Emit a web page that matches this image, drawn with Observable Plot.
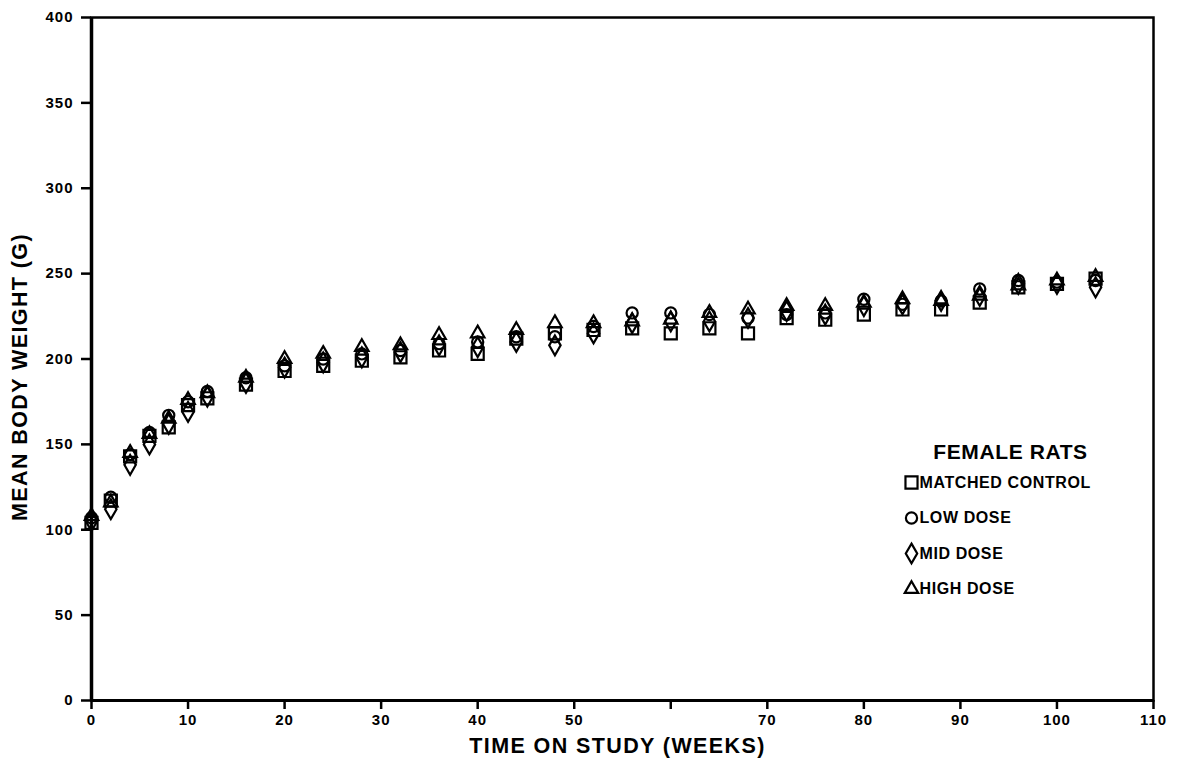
<!DOCTYPE html>
<html>
<head>
<meta charset="utf-8">
<script src="https://cdn.jsdelivr.net/npm/d3@7"></script>
<script src="https://cdn.jsdelivr.net/npm/@observablehq/plot@0.6"></script>
<style>
  html, body { margin: 0; padding: 0; background: #fff; }
  #chart svg text { font-family: "Liberation Sans", Arial, sans-serif; font-weight: bold; }
  #chart g[aria-label$="tick label"] { font-size: 15px; letter-spacing: 1px; }
  #chart g[aria-label$="tick label"] text { font-size: 15px; letter-spacing: 1px; }
  #chart .biglbl text { letter-spacing: 1.4px; }
  #chart .legtxt text { letter-spacing: 0.6px; }
</style>
</head>
<body>
<div id="chart"></div>
<script>
// ---- data ----
const weeks = [0, 2, 4, 6, 8, 10, 12, 16, 20, 24, 28, 32, 36, 40, 44, 48, 52, 56, 60, 64, 68, 72, 76, 80, 84, 88, 92, 96, 100, 104];
const matchedControl = [104, 117, 143, 155, 160, 173, 177, 185, 193, 196, 199, 201, 205, 203, 212, 215, 217, 218, 215, 218, 215, 224, 223, 226, 229, 229, 233, 242, 244, 247];
const lowDose        = [107, 119, 144, 157, 167, 175, 181, 189, 196, 200, 203, 205, 209, 210, 213, 213, 219, 227, 227, 226, 224, 226, 227, 235, 232, 234, 241, 246, 245, 246];
const midDose        = [105, 112, 138, 150, 162, 169, 178, 186, 195, 198, 201, 204, 208, 207, 210, 208, 215, 221, 222, 222, 224, 228, 226, 231, 232, 234, 237, 244, 244, 242];
const highDose       = [108, 116, 145, 156, 165, 176, 180, 189, 200, 203, 207, 208, 214, 215, 217, 221, 221, 222, 223, 227, 229, 231, 231, 233, 235, 234, 237, 243, 246, 248];

const seriesNames = ["MATCHED CONTROL", "LOW DOSE", "MID DOSE", "HIGH DOSE"];
const seriesValues = [matchedControl, lowDose, midDose, highDose];
const seriesSymbols = ["square", "circle", "diamond", "triangle"];
const seriesRadius = [6.8, 5.6, 6, 5];

const xTicks = [0, 10, 20, 30, 40, 50, 60, 70, 80, 90, 100, 110];
const xTickLabels = ["0", "10", "20", "30", "40", "50", "", "70", "80", "90", "100", "110"];
const yTicks = [0, 50, 100, 150, 200, 250, 300, 350, 400];

const legendTitle = "FEMALE RATS";
const xLabel = "TIME ON STUDY (WEEKS)";
const yLabel = "MEAN BODY WEIGHT (G)";

// ---- build ----
const seriesMarks = seriesNames.map((name, s) => {
  const rows = weeks.map((w, i) => ({week: w, weight: seriesValues[s][i], series: name}));
  return Plot.dot(rows, {
    x: "week", y: "weight", symbol: () => seriesSymbols[s], r: seriesRadius[s],
    stroke: "black", strokeWidth: 2.2, fill: "none"
  });
});

const legendMarks = [
  Plot.text([legendTitle], {frameAnchor: "top-left", dx: 919, dy: 435, text: d => d,
    textAnchor: "middle", lineAnchor: "middle", fontSize: 21, fill: "black", className: "legtxt"})
];
seriesNames.forEach((name, s) => {
  const dy = 465 + s * 35.5;
  legendMarks.push(Plot.dot([name], {frameAnchor: "top-left", dx: 820, dy,
    symbol: () => seriesSymbols[s], r: seriesRadius[s], stroke: "black", strokeWidth: 2.2, fill: "none"}));
  legendMarks.push(Plot.text([name], {frameAnchor: "top-left", dx: 828, dy, text: d => d,
    textAnchor: "start", lineAnchor: "middle", fontSize: 16, fill: "black", className: "legtxt"}));
});

const chart = Plot.plot({
  width: 1178,
  height: 758,
  marginLeft: 91,
  marginRight: 25,
  marginTop: 17,
  marginBottom: 58,
  style: {background: "white", color: "black", fontFamily: "Liberation Sans, Arial, sans-serif"},
  x: {domain: [0, 110]},
  y: {domain: [0, 400]},
  symbol: {type: "identity"},
  marks: [
    Plot.frame({stroke: "black", strokeWidth: 2.5}),
    Plot.ruleX([0], {stroke: "black", strokeWidth: 3.5}),
    Plot.ruleY([0], {stroke: "black", strokeWidth: 3}),
    Plot.axisY({ticks: yTicks, tickSize: 10, tickPadding: 8, strokeWidth: 2.5, fontSize: 15,
      label: null}),
    Plot.axisX({ticks: xTicks, tickFormat: (d) => xTickLabels[xTicks.indexOf(d)], tickSize: 9, tickPadding: 5,
      strokeWidth: 2.5, fontSize: 15, label: null}),
    Plot.text([yLabel], {frameAnchor: "left", rotate: -90, dx: -71, dy: 18, text: d => d,
      textAnchor: "middle", lineAnchor: "middle", fontSize: 21.5, fill: "black", className: "biglbl"}),
    Plot.text([xLabel], {frameAnchor: "bottom", dx: -5, dy: 46, text: d => d,
      textAnchor: "middle", lineAnchor: "middle", fontSize: 21.5, fill: "black", className: "biglbl"}),
    ...seriesMarks,
    ...legendMarks
  ]
});
document.getElementById("chart").appendChild(chart);
</script>
</body>
</html>
